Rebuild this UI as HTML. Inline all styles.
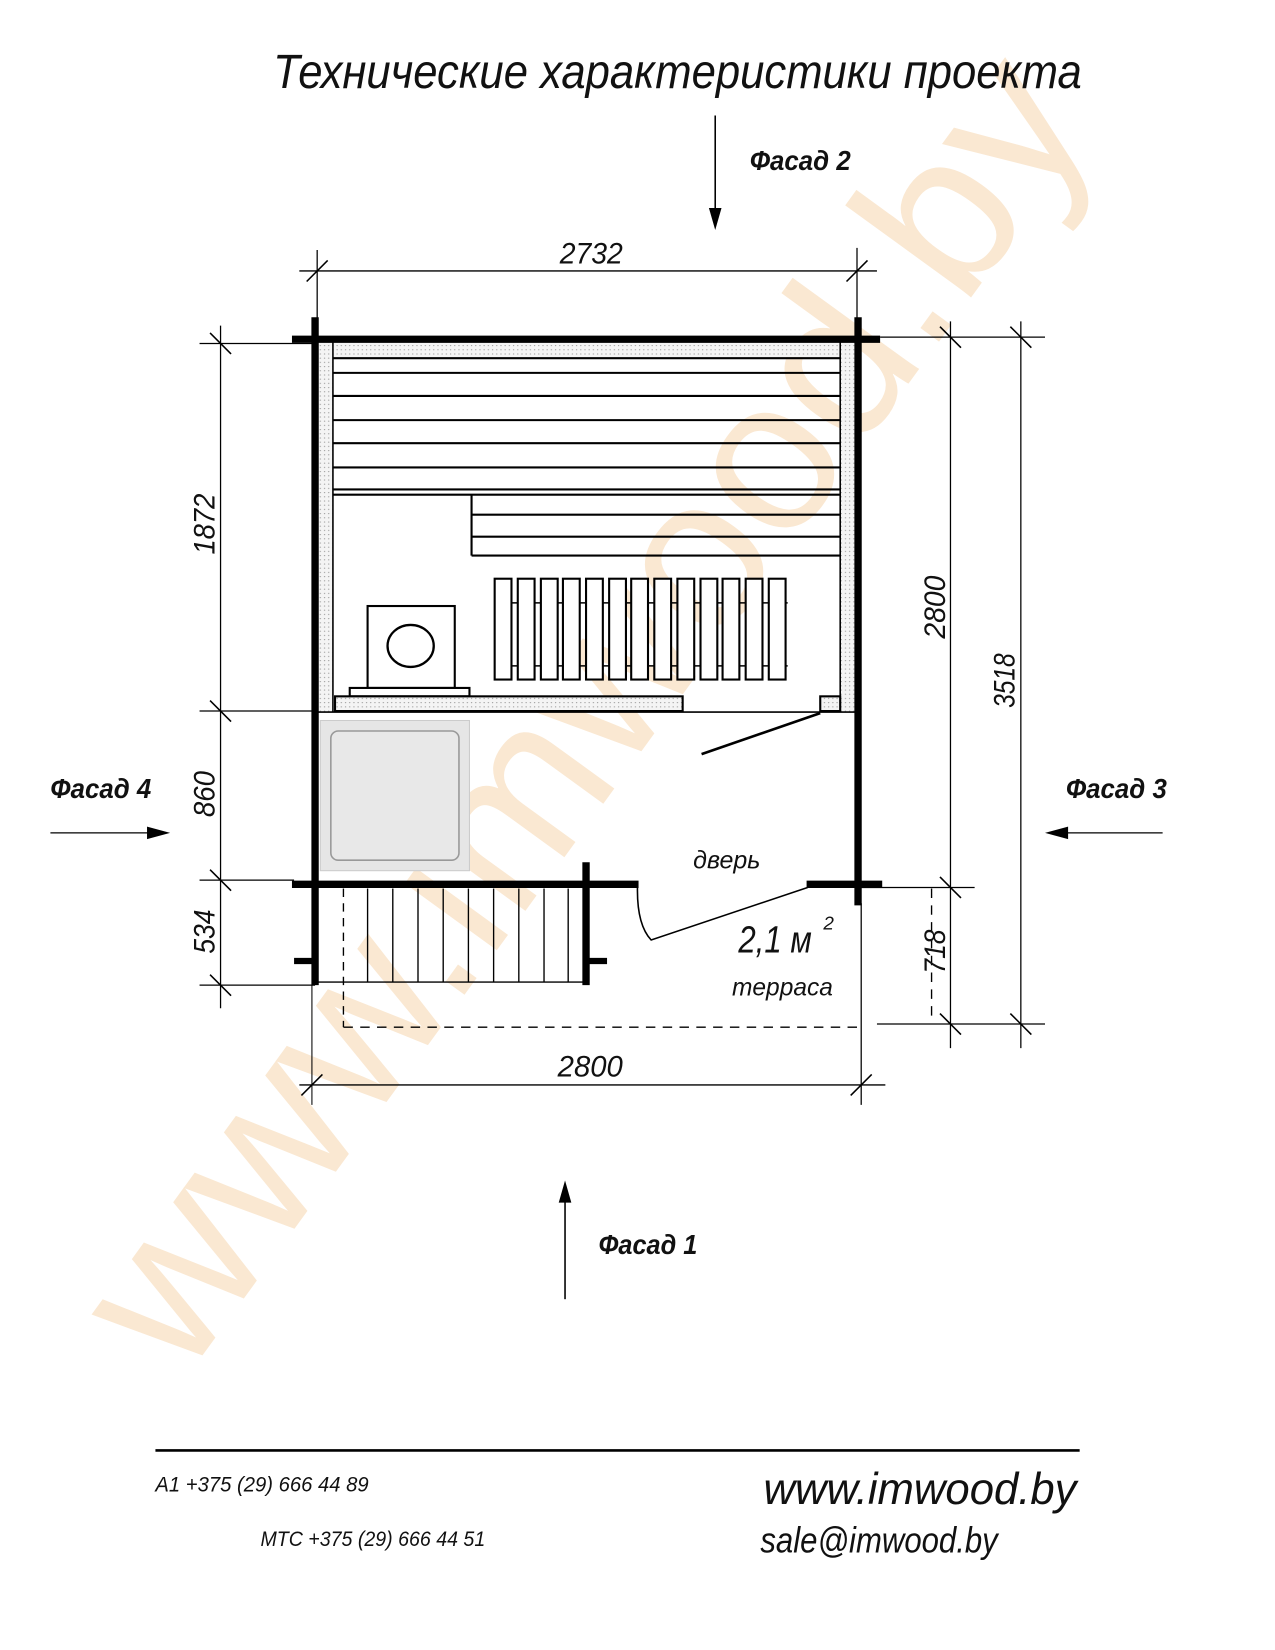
<!DOCTYPE html>
<html><head><meta charset="utf-8"><style>
html,body{margin:0;padding:0;background:#fff;}
svg{display:block;}
text{font-family:"Liberation Sans","DejaVu Sans",sans-serif;font-style:italic;}
</style></head><body>
<svg width="1275" height="1650" viewBox="0 0 1214 1571" xmlns="http://www.w3.org/2000/svg">
<defs>
<pattern id="dots" width="4" height="4" patternUnits="userSpaceOnUse"><rect width="4" height="4" fill="#f4f4f4"/><circle cx="1" cy="1" r="0.6" fill="#999"/></pattern>
</defs>
<rect width="1214" height="1571" fill="#fff"/>
<!-- watermark -->
<text x="0" y="0" transform="translate(175,1315) rotate(-54)" font-size="205" fill="#fae8d2" style="font-style:normal" textLength="1480" lengthAdjust="spacingAndGlyphs">www.imwood.by</text>

<!-- title -->
<text x="260" y="84" font-size="46" fill="#111" textLength="770" lengthAdjust="spacingAndGlyphs">Технические характеристики проекта</text>

<g stroke="#000" fill="none">
<line x1="681" y1="110" x2="681" y2="205" stroke-width="1.5"/>
<line x1="285" y1="258" x2="835" y2="258" stroke-width="1.3"/>
<line x1="302" y1="238" x2="302" y2="320" stroke-width="1.2"/>
<line x1="816" y1="236" x2="816" y2="305" stroke-width="1.2"/>
<line x1="292" y1="268" x2="312" y2="248" stroke-width="1.5"/>
<line x1="806" y1="268" x2="826" y2="248" stroke-width="1.5"/>

<rect x="303" y="326" width="14" height="352" fill="url(#dots)" stroke="none"/>
<rect x="800" y="326" width="14" height="352" fill="url(#dots)" stroke="none"/>
<rect x="317" y="326" width="483" height="14" fill="url(#dots)" stroke="none"/>
<line x1="317" y1="326" x2="317" y2="678" stroke-width="1.5"/>
<line x1="800" y1="326" x2="800" y2="678" stroke-width="1.5"/>
<g stroke-width="2">
<line x1="317" y1="341" x2="800" y2="341"/>
<line x1="317" y1="355" x2="800" y2="355"/>
<line x1="317" y1="377" x2="800" y2="377"/>
<line x1="317" y1="400" x2="800" y2="400"/>
<line x1="317" y1="422" x2="800" y2="422"/>
<line x1="317" y1="445" x2="800" y2="445"/>
<line x1="317" y1="466" x2="800" y2="466"/>
<line x1="317" y1="471" x2="800" y2="471"/>
<line x1="449" y1="471" x2="449" y2="529"/>
<line x1="449" y1="490" x2="800" y2="490"/>
<line x1="449" y1="511" x2="800" y2="511"/>
<line x1="449" y1="529" x2="800" y2="529"/>
</g>
<g stroke-width="2" fill="#fff">
<line x1="471" y1="574" x2="750" y2="574" stroke-width="1.5"/>
<line x1="471" y1="634" x2="750" y2="634" stroke-width="1.5"/>
<rect x="471" y="551" width="16" height="96"/>
<rect x="493" y="551" width="16" height="96"/>
<rect x="515" y="551" width="16" height="96"/>
<rect x="536" y="551" width="16" height="96"/>
<rect x="558" y="551" width="16" height="96"/>
<rect x="580" y="551" width="16" height="96"/>
<rect x="601" y="551" width="16" height="96"/>
<rect x="623" y="551" width="16" height="96"/>
<rect x="645" y="551" width="16" height="96"/>
<rect x="667" y="551" width="16" height="96"/>
<rect x="688" y="551" width="16" height="96"/>
<rect x="710" y="551" width="16" height="96"/>
<rect x="732" y="551" width="16" height="96"/>
</g>
<rect x="350" y="577" width="83" height="78" stroke-width="2" fill="#fff"/>
<ellipse cx="391" cy="615" rx="22" ry="20" stroke-width="2.2"/>
<rect x="333" y="655" width="114" height="8" stroke-width="2" fill="#fff"/>
<rect x="319" y="663" width="331" height="14" stroke-width="2" fill="url(#dots)"/>
<rect x="781" y="663" width="19" height="14" stroke-width="2" fill="url(#dots)"/>
<line x1="300" y1="678" x2="817" y2="678" stroke-width="1.5"/>
<line x1="668" y1="718" x2="781" y2="679" stroke-width="2.5"/>
<rect x="305" y="686" width="142" height="143" fill="#e6e6e6" stroke="#ccc" stroke-width="1"/>
<rect x="315" y="696" width="122" height="123" rx="7" fill="#e8e8e8" stroke="#999" stroke-width="1.5"/>

<line x1="278" y1="323" x2="838" y2="323" stroke-width="7"/>
<line x1="300" y1="302" x2="300" y2="938" stroke-width="7"/>
<line x1="817" y1="302" x2="817" y2="862" stroke-width="7"/>
<line x1="278" y1="842" x2="608" y2="842" stroke-width="7"/>
<line x1="768" y1="842" x2="840" y2="842" stroke-width="7"/>
<line x1="558" y1="821" x2="558" y2="938" stroke-width="7"/>
<line x1="280" y1="915" x2="300" y2="915" stroke-width="6"/>
<line x1="558" y1="915" x2="578" y2="915" stroke-width="6"/>
<g stroke-width="1.3">
<line x1="327" y1="846" x2="327" y2="978" stroke-dasharray="8,6"/>
<line x1="350" y1="846" x2="350" y2="935"/>
<line x1="374" y1="846" x2="374" y2="935"/>
<line x1="398" y1="846" x2="398" y2="935"/>
<line x1="422" y1="846" x2="422" y2="935"/>
<line x1="446" y1="846" x2="446" y2="935"/>
<line x1="470" y1="846" x2="470" y2="935"/>
<line x1="494" y1="846" x2="494" y2="935"/>
<line x1="518" y1="846" x2="518" y2="935"/>
<line x1="541" y1="846" x2="541" y2="935"/>
<line x1="300" y1="935" x2="558" y2="935"/>
<line x1="327" y1="978" x2="820" y2="978" stroke-dasharray="9,7"/>
<line x1="887" y1="846" x2="887" y2="970" stroke-dasharray="9,7"/>
</g>
<path d="M607,843 Q606,880 620,895 L769,845" stroke-width="1.5"/>

<g stroke-width="1.2">
<line x1="838" y1="321" x2="995" y2="321"/>
<line x1="820" y1="845" x2="928" y2="845"/>
<line x1="820" y1="860" x2="820" y2="1052"/>
<line x1="835" y1="975" x2="995" y2="975"/>
<line x1="905" y1="306" x2="905" y2="998"/>
<line x1="972" y1="306" x2="972" y2="998"/>
</g>
<g stroke-width="1.5">
<line x1="895" y1="311" x2="915" y2="331"/>
<line x1="962" y1="311" x2="982" y2="331"/>
<line x1="895" y1="835" x2="915" y2="855"/>
<line x1="895" y1="965" x2="915" y2="985"/>
<line x1="962" y1="965" x2="982" y2="985"/>
</g>
<g stroke-width="1.2">
<line x1="210" y1="310" x2="210" y2="960"/>
<line x1="190" y1="327" x2="300" y2="327"/>
<line x1="190" y1="677" x2="300" y2="677"/>
<line x1="190" y1="838" x2="280" y2="838"/>
<line x1="190" y1="938" x2="300" y2="938"/>
</g>
<g stroke-width="1.5">
<line x1="200" y1="317" x2="220" y2="337"/>
<line x1="200" y1="667" x2="220" y2="687"/>
<line x1="200" y1="828" x2="220" y2="848"/>
<line x1="200" y1="928" x2="220" y2="948"/>
</g>
<line x1="285" y1="1033" x2="843" y2="1033" stroke-width="1.2"/>
<line x1="297" y1="938" x2="297" y2="1052" stroke-width="1"/>
<line x1="287" y1="1043" x2="307" y2="1023" stroke-width="1.5"/>
<line x1="810" y1="1043" x2="830" y2="1023" stroke-width="1.5"/>

<line x1="48" y1="793" x2="150" y2="793" stroke-width="1.2"/>
<line x1="1005" y1="793" x2="1107" y2="793" stroke-width="1.2"/>
<line x1="538" y1="1140" x2="538" y2="1237" stroke-width="1.5"/>

<line x1="148" y1="1381" x2="1028" y2="1381" stroke-width="2.5"/>
</g>
<g fill="#000">
<polygon points="675,198 687,198 681,219"/>
<polygon points="140,787 140,799 162,793"/>
<polygon points="1017,787 1017,799 995,793"/>
<polygon points="532,1145 544,1145 538,1124"/>
</g>

<g fill="#111">
<text x="714" y="162" font-size="26" font-weight="bold" textLength="96" lengthAdjust="spacingAndGlyphs">Фасад 2</text>
<text x="48" y="760" font-size="26" font-weight="bold" textLength="96" lengthAdjust="spacingAndGlyphs">Фасад 4</text>
<text x="1015" y="760" font-size="26" font-weight="bold" textLength="96" lengthAdjust="spacingAndGlyphs">Фасад 3</text>
<text x="570" y="1194" font-size="26" font-weight="bold" textLength="94" lengthAdjust="spacingAndGlyphs">Фасад 1</text>
<text x="533" y="251" font-size="28" textLength="60" lengthAdjust="spacingAndGlyphs">2732</text>
<text x="531" y="1025" font-size="28" textLength="62" lengthAdjust="spacingAndGlyphs">2800</text>
<text transform="translate(204,528) rotate(-90)" font-size="28" textLength="58" lengthAdjust="spacingAndGlyphs">1872</text>
<text transform="translate(204,778) rotate(-90)" font-size="28" textLength="44" lengthAdjust="spacingAndGlyphs">860</text>
<text transform="translate(204,908) rotate(-90)" font-size="28" textLength="42" lengthAdjust="spacingAndGlyphs">534</text>
<text transform="translate(900,608) rotate(-90)" font-size="28" textLength="60" lengthAdjust="spacingAndGlyphs">2800</text>
<text transform="translate(966,674) rotate(-90)" font-size="28" textLength="52" lengthAdjust="spacingAndGlyphs">3518</text>
<text transform="translate(900,927) rotate(-90)" font-size="28" textLength="42" lengthAdjust="spacingAndGlyphs">718</text>
<text x="660" y="827" font-size="24" textLength="64" lengthAdjust="spacingAndGlyphs">дверь</text>
<text x="703" y="907" font-size="36" textLength="70" lengthAdjust="spacingAndGlyphs">2,1 м</text>
<text x="784" y="885" font-size="18">2</text>
<text x="697" y="948" font-size="24" textLength="96" lengthAdjust="spacingAndGlyphs">терраса</text>
<text x="148" y="1420" font-size="20" textLength="203" lengthAdjust="spacingAndGlyphs">А1 +375 (29) 666 44 89</text>
<text x="248" y="1472" font-size="20" textLength="214" lengthAdjust="spacingAndGlyphs">МТС +375 (29) 666 44 51</text>
<text x="727" y="1432" font-size="42" textLength="298" lengthAdjust="spacingAndGlyphs">www.imwood.by</text>
<text x="724" y="1478" font-size="34" textLength="226" lengthAdjust="spacingAndGlyphs">sale@imwood.by</text>
</g>
</svg>
</body></html>
